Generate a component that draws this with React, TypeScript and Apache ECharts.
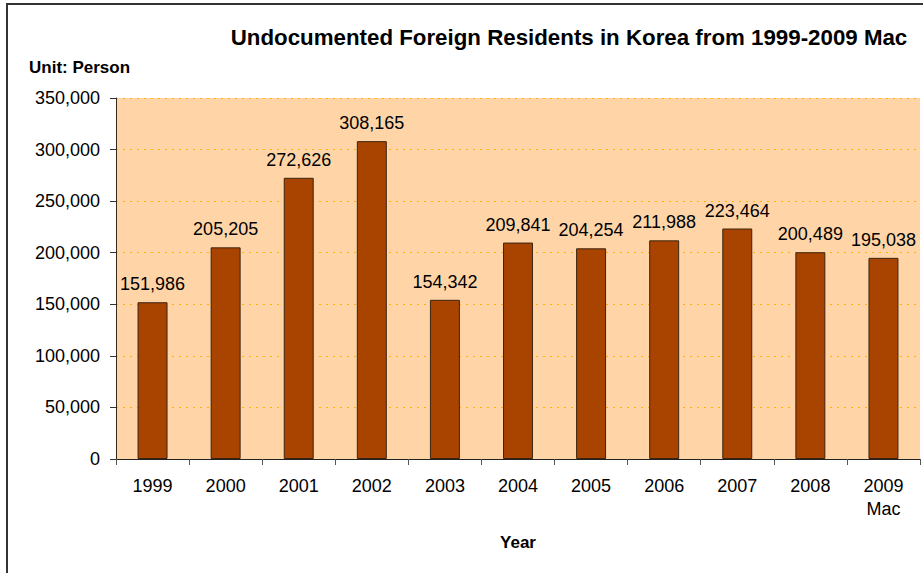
import React, { useEffect, useRef } from "react";
import * as echarts from "echarts";

const categories = ["1999", "2000", "2001", "2002", "2003", "2004", "2005", "2006", "2007", "2008", "2009\nMac"];
const values = [151986, 205205, 272626, 308165, 154342, 209841, 204254, 211988, 223464, 200489, 195038];
const yMin = 0;
const yMax = 350000;
const yInterval = 50000;

const FONT = "'Liberation Sans', Arial, sans-serif";

export default function App() {
  const ref = useRef<HTMLDivElement>(null);
  useEffect(() => {
    if (!ref.current) return;
    const chart = echarts.init(ref.current, undefined, { renderer: "svg" });
    chart.setOption({
      animation: false,
      backgroundColor: "#ffffff",
      textStyle: { fontFamily: FONT },
      title: {
        text: "Undocumented Foreign Residents in Korea from 1999-2009 Mac",
        left: 564,
        textAlign: "center",
        top: 21,
        textStyle: { fontFamily: FONT, fontSize: 22.3, fontWeight: "bold", color: "#000" },
      },
      graphic: [
        {
          type: "rect",
          shape: { x: 7, y: 4, width: 940, height: 620 },
          style: { fill: "none", stroke: "#333333", lineWidth: 2 },
          silent: true,
          z: 100,
        },
        {
          type: "text",
          x: 29,
          y: 59,
          style: { text: "Unit: Person", font: "bold 17px 'Liberation Sans', Arial, sans-serif", fill: "#000" },
        },
      ],
      grid: {
        left: 116,
        right: 3,
        top: 98,
        bottom: 114,
        show: true,
        backgroundColor: "#FFD5A8",
        borderWidth: 0,
      },
      xAxis: {
        type: "category",
        data: categories,
        name: "Year",
        nameLocation: "middle",
        nameGap: 75,
        nameTextStyle: { fontFamily: FONT, fontSize: 17, fontWeight: "bold", color: "#000" },
        axisLine: { lineStyle: { color: "#222", width: 1 } },
        axisTick: { show: true, length: 6, lineStyle: { color: "#555" } },
        axisLabel: { fontFamily: FONT, fontSize: 18, color: "#000", margin: 15, lineHeight: 23 },
        splitLine: { show: false },
      },
      yAxis: {
        type: "value",
        min: yMin,
        max: yMax,
        interval: yInterval,
        axisLine: { show: true, lineStyle: { color: "#3a2a1a", width: 1 } },
        axisTick: { show: true, length: 6, lineStyle: { color: "#333" } },
        axisLabel: {
          fontFamily: FONT,
          fontSize: 18,
          color: "#000",
          margin: 16,
          formatter: (v: number) => v.toLocaleString("en-US"),
        },
        splitLine: { show: true, lineStyle: { color: "#FFB000", type: [2, 5], width: 1 } },
      },
      series: [
        {
          type: "bar",
          data: values,
          barWidth: "41%",
          itemStyle: { color: "#A84300", borderColor: "#3a2410", borderWidth: 1 },
          label: {
            show: true,
            position: "top",
            distance: 9,
            fontFamily: FONT,
            fontSize: 18,
            color: "#000",
            formatter: (p: any) => (p.value as number).toLocaleString("en-US"),
          },
        },
      ],
    });
    return () => chart.dispose();
  }, []);
  return <div ref={ref} style={{ position: "absolute", left: 0, top: 0, width: 923, height: 573 }} />;
}
